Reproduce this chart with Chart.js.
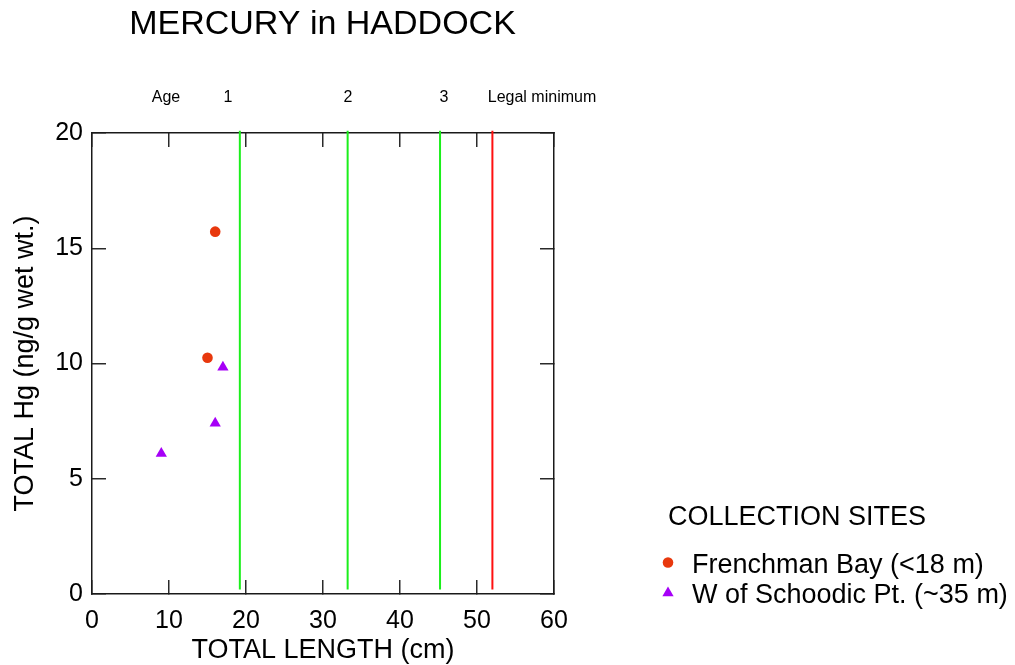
<!DOCTYPE html>
<html>
<head>
<meta charset="utf-8">
<title>Mercury in Haddock</title>
<script src="https://cdn.jsdelivr.net/npm/chart.js@4/dist/chart.umd.min.js"></script>
<style>
  html, body { margin: 0; padding: 0; background: #ffffff; }
  canvas { display: block; }
</style>
</head>
<body>
<canvas id="chart" width="1015" height="665"></canvas>
<script>
// Total length (cm) and total mercury (ng/g wet wt.) per fish, by collection site
const frenchmanLength = [16.0, 15.0];
const frenchmanHg     = [15.72, 10.25];
const schoodicLength  = [17.0, 16.0, 9.0];
const schoodicHg      = [9.84, 7.41, 6.10];

// Length at age 1, 2, 3 and the legal minimum landing length (cm)
const ageLengths = [19.2, 33.2, 45.2];
const legalMinimumLength = 52;
const referenceSpan = [0.2, 20.1];

const xTickValues = [0, 10, 20, 30, 40, 50, 60];
const yTickValues = [0, 5, 10, 15, 20];
const siteNames = ['Frenchman Bay (<18 m)', 'W of Schoodic Pt. (~35 m)'];
const markerLabels = ['Age', '1', '2', '3', 'Legal minimum'];

const FONT = '"Liberation Sans", Arial, Helvetica, sans-serif';
Chart.defaults.font.family = FONT;
Chart.defaults.color = '#000';

const siteColors = ['#e8380d', '#a600f7'];
const siteStyles = ['circle', 'triangle'];
const siteRadius = [5.3, 6.5];

const toPoints = (xs, ys) => xs.map((x, i) => ({ x, y: ys[i] }));
const verticalLine = (x, color) => ({
  type: 'line',
  data: [{ x, y: referenceSpan[0] }, { x, y: referenceSpan[1] }],
  borderColor: color,
  borderWidth: 2,
  pointRadius: 0,
  fill: false,
  clip: false
});

const datasets = [
  ...ageLengths.map(v => verticalLine(v, '#1bef1b')),
  verticalLine(legalMinimumLength, '#ff1010'),
  {
    type: 'scatter', label: siteNames[0],
    data: toPoints(frenchmanLength, frenchmanHg),
    pointStyle: siteStyles[0], pointRadius: siteRadius[0],
    backgroundColor: siteColors[0], borderWidth: 0
  },
  {
    type: 'scatter', label: siteNames[1],
    data: toPoints(schoodicLength, schoodicHg),
    pointStyle: siteStyles[1], pointRadius: siteRadius[1],
    backgroundColor: siteColors[1], borderWidth: 0
  }
];

// Frame axes: tick marks point into the plot on all four sides
const frameGrid = { drawOnChartArea: false, drawTicks: true, tickLength: -14, color: '#2a2a2a', lineWidth: 1.5 };
const frameBorder = { display: true, color: '#1a1a1a', width: 1.5 };
const useTicks = values => scale => { scale.ticks = values.map(value => ({ value })); };

// Title, age labels above the plot and the collection-site key
const annotations = {
  id: 'annotations',
  afterDraw(chart) {
    const ctx = chart.ctx;
    ctx.save();
    ctx.fillStyle = '#000';
    ctx.textBaseline = 'alphabetic';

    ctx.font = '34px ' + FONT;
    ctx.textAlign = 'center';
    ctx.fillText('MERCURY in HADDOCK', 322.5, 34);

    ctx.font = '16px ' + FONT;
    const labelX = [166, 228, 348, 444, 542];
    markerLabels.forEach((t, i) => ctx.fillText(t, labelX[i], 102));

    ctx.textAlign = 'left';
    ctx.font = '27px ' + FONT;
    ctx.fillText('COLLECTION SITES', 668, 525);

    const rowY = [572.5, 602.5];
    const markY = [562.5, 593];
    siteNames.forEach((name, i) => {
      ctx.fillStyle = '#000';
      ctx.fillText(name, 692, rowY[i]);
      const style = { pointStyle: siteStyles[i], radius: siteRadius[i], borderWidth: 0, rotation: 0 };
      ctx.fillStyle = siteColors[i];
      ctx.strokeStyle = siteColors[i];
      if (Chart.helpers && Chart.helpers.drawPoint) {
        Chart.helpers.drawPoint(ctx, style, 668, markY[i]);
      } else {
        ctx.beginPath();
        ctx.arc(668, markY[i], siteRadius[i], 0, Math.PI * 2);
        ctx.fill();
      }
    });
    ctx.restore();
  }
};

new Chart(document.getElementById('chart'), {
  data: { datasets },
  options: {
    responsive: false,
    animation: false,
    events: [],
    layout: { padding: { left: 0, right: 461, top: 133, bottom: 0 } },
    plugins: { legend: { display: false }, tooltip: { enabled: false } },
    scales: {
      x: {
        type: 'linear', position: 'bottom', min: 0, max: 60,
        afterBuildTicks: useTicks(xTickValues),
        grid: frameGrid, border: frameBorder,
        ticks: { padding: 26, font: { size: 25 }, color: '#000', maxRotation: 0, autoSkip: false },
        title: { display: true, text: 'TOTAL LENGTH (cm)', font: { size: 27 }, color: '#000', padding: { top: 0, bottom: -2 } },
        afterFit: s => { s.height = 71; }
      },
      xTop: {
        type: 'linear', position: 'top', min: 0, max: 60,
        afterBuildTicks: useTicks(xTickValues),
        grid: frameGrid, border: frameBorder,
        ticks: { display: false },
        afterFit: s => { s.height = 0; }
      },
      y: {
        type: 'linear', position: 'left', min: 0, max: 20,
        afterBuildTicks: useTicks(yTickValues),
        grid: frameGrid, border: frameBorder,
        ticks: { padding: 23, font: { size: 25 }, color: '#000', autoSkip: false },
        title: { display: true, text: 'TOTAL Hg (ng/g wet wt.)', font: { size: 27 }, color: '#000', padding: { top: 9, bottom: 0 } },
        afterFit: s => { s.width = 92; }
      },
      yRight: {
        type: 'linear', position: 'right', min: 0, max: 20,
        afterBuildTicks: useTicks(yTickValues),
        grid: frameGrid, border: frameBorder,
        ticks: { display: false },
        afterFit: s => { s.width = 0; }
      }
    }
  },
  plugins: [annotations]
});
</script>
</body>
</html>
